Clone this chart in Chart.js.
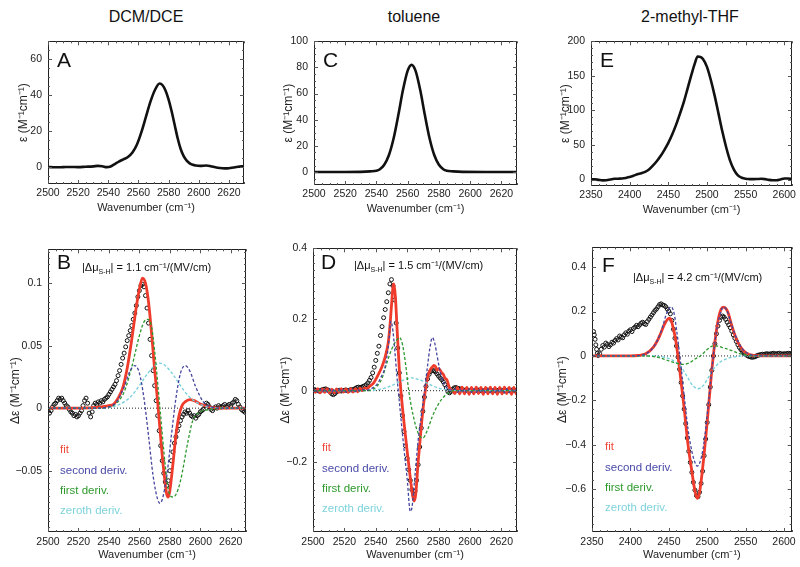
<!DOCTYPE html>
<html><head><meta charset="utf-8">
<script src="https://cdn.jsdelivr.net/npm/chart.js@4.4.1/dist/chart.umd.min.js"></script>
<style>
body{margin:0;background:#fff;width:800px;height:567px;position:relative;overflow:hidden;font-family:"Liberation Sans",Arial,Helvetica,sans-serif}
.ttl{position:absolute;top:8px;font-size:16px;color:#111;transform:translateX(-50%);white-space:nowrap}
canvas{position:absolute}
</style></head><body>
<div class="ttl" style="left:146px">DCM/DCE</div>
<div class="ttl" style="left:414px">toluene</div>
<div class="ttl" style="left:690px">2-methyl-THF</div>
<canvas id="cA"></canvas><canvas id="cC"></canvas><canvas id="cE"></canvas>
<canvas id="cB"></canvas><canvas id="cD"></canvas><canvas id="cF"></canvas>
<script>
// ---------- tick labels ----------
const xTicksAB = [2500,2520,2540,2560,2580,2600,2620];
const xTicksEF = [2350,2400,2450,2500,2550,2600];
const yTicksA = [0,20,40,60];
const yTicksC = [0,20,40,60,80,100];
const yTicksE = [0,50,100,150,200];
const yTicksB = [-0.05,0,0.05,0.1];
const yTicksD = [-0.2,0,0.2,0.4];
const yTicksF = [-0.6,-0.4,-0.2,0,0.2,0.4];
const panelTitles = ['DCM/DCE','toluene','2-methyl-THF'];
const muValues = ['1.1','1.5','4.2'];
const legendLabels = ['fit','second deriv.','first deriv.','zeroth deriv.'];

// ---------- absorption spectra (top) ----------
const absA = [[2500,0.0],[2505,-0.2],[2510,-0.1],[2515,0.0],[2520,-0.1],[2525,0.1],[2530,0.3],[2533,0.6],[2536,0.4],[2539,-0.1],[2541,0.1],[2544,1.5],[2547,3.0],[2550,4.2],[2553,5.5],[2556,8.0],[2559,12.5],[2562,19.5],[2565,28.0],[2568,36.5],[2571,43.0],[2574,46.5],[2576,45.5],[2578,42.5],[2580,37.5],[2582,31.0],[2584,23.5],[2586,16.0],[2588,10.0],[2590,6.0],[2592,3.5],[2594,2.0],[2596,1.2],[2598,0.8],[2601,0.6],[2605,0.8],[2608,0.4],[2611,-0.2],[2614,-0.6],[2617,-0.8],[2620,-0.7],[2623,-0.3],[2626,0.1],[2630,0.4]];
const absC = [[2500,0],[2520,0],[2530,0.1],[2536,0.5],[2540,1.0],[2542,2.0],[2545,5.6],[2548,13],[2551,25.8],[2554,43.6],[2557,62.9],[2560,77.6],[2562.5,82],[2565,77.6],[2568,62.9],[2571,43.6],[2574,25.8],[2577,13],[2580,5.6],[2583,2.0],[2585,1.0],[2589,0.5],[2595,0.1],[2610,0],[2630,0]];
const absE = [[2350,0.5],[2355,0.3],[2360,-0.5],[2365,-1.2],[2370,-1.0],[2375,0.0],[2380,1.0],[2385,1.2],[2390,1.4],[2395,2.2],[2400,3.7],[2405,5.5],[2410,7.5],[2415,9.0],[2420,11.0],[2425,14.5],[2430,20],[2435,26.5],[2440,34],[2445,43],[2450,53],[2455,65],[2460,79],[2465,95],[2470,112],[2475,132],[2480,152],[2484,167],[2488,178],[2492,177],[2495,174],[2500,163],[2505,144],[2510,121],[2515,95],[2520,69],[2525,46],[2530,27],[2535,14],[2540,6],[2545,2.5],[2550,1.0],[2555,0.6],[2560,0.5],[2565,0.7],[2570,1.0],[2575,0.5],[2580,-0.5],[2585,-1.0],[2590,-1.0],[2595,0.0],[2600,1.4],[2605,1.5],[2610,0.5]];

// ---------- Stark spectra: panel B (DCM/DCE) ----------
const dataB = [[2500,-0.002],[2501,-0.004],[2502,-0.002],[2503,0.001],[2504,0.003],[2505,0.004],[2506,0.006],[2507,0.008],[2508,0.007],[2509,0.008],[2510,0.006],[2511,0.004],[2512,0.002],[2513,0.001],[2514,-0.001],[2515,-0.003],[2516,-0.004],[2517,-0.006],[2518,-0.005],[2519,-0.007],[2520,-0.006],[2521,-0.004],[2522,-0.002],[2523,0.002],[2524,0.006],[2525,0.008],[2526,0.004],[2527,-0.004],[2528,-0.007],[2529,-0.003],[2530,0.002],[2531,0.004],[2532,0.003],[2533,0.005],[2534,0.004],[2535,0.006],[2536,0.005],[2537,0.007],[2538,0.008],[2539,0.009],[2540,0.011],[2541,0.013],[2542,0.015],[2543,0.017],[2544,0.019],[2545,0.022],[2546,0.026],[2547,0.030],[2548,0.035],[2549,0.040],[2550,0.044],[2551,0.049],[2552,0.054],[2553,0.058],[2554,0.062],[2555,0.066],[2556,0.071],[2557,0.076],[2558,0.082],[2559,0.089],[2560,0.094],[2561,0.098],[2562,0.099],[2563,0.097],[2564,0.090],[2565,0.080],[2566,0.068],[2567,0.055],[2568,0.042],[2569,0.030],[2570,0.018],[2571,0.006],[2572,-0.006],[2573,-0.018],[2574,-0.030],[2575,-0.042],[2576,-0.052],[2577,-0.059],[2578,-0.062],[2579,-0.058],[2580,-0.050],[2581,-0.042],[2582,-0.035],[2583,-0.028],[2584,-0.023],[2585,-0.018],[2586,-0.014],[2587,-0.010],[2588,-0.007],[2589,-0.005],[2590,-0.003],[2591,-0.004],[2592,-0.002],[2593,-0.004],[2594,-0.006],[2595,-0.007],[2596,-0.006],[2597,-0.008],[2598,-0.006],[2599,-0.005],[2600,-0.003],[2601,-0.002],[2602,-0.001],[2603,0.002],[2604,0.004],[2605,0.003],[2606,0.001],[2607,-0.001],[2608,-0.002],[2609,0.000],[2610,0.001],[2611,0.000],[2612,0.002],[2613,0.001],[2614,0.001],[2615,0.002],[2616,0.003],[2617,0.001],[2618,0.002],[2619,0.003],[2620,0.002],[2621,0.004],[2622,0.005],[2623,0.007],[2624,0.006],[2625,0.003],[2626,0.001],[2627,-0.001],[2628,-0.002],[2629,-0.003],[2630,-0.002]];
const fitB = [[2500,0],[2520,0],[2535,0.001],[2540,0.002],[2543,0.003],[2546,0.008],[2549,0.016],[2552,0.032],[2555,0.055],[2558,0.081],[2560,0.095],[2562,0.104],[2564,0.100],[2566,0.085],[2568,0.060],[2570,0.031],[2572,0.005],[2574,-0.024],[2576,-0.050],[2578,-0.069],[2579,-0.071],[2580,-0.066],[2582,-0.045],[2584,-0.0215],[2586,-0.006],[2588,0.002],[2590,0.005],[2593,0.0068],[2596,0.006],[2600,0.0034],[2605,0.0013],[2610,0.0003],[2620,0],[2630,0]];
const secondB = [[2500,0],[2530,0],[2540,0.001],[2545,0.005],[2550,0.017],[2554,0.030],[2557,0.034],[2560,0.028],[2563,0.008],[2566,-0.022],[2569,-0.054],[2572,-0.073],[2573.5,-0.076],[2575,-0.073],[2578,-0.054],[2581,-0.022],[2584,0.008],[2587,0.028],[2590,0.034],[2593,0.030],[2597,0.017],[2602,0.005],[2607,0.001],[2615,0],[2630,0]];
const firstB = [[2500,0],[2530,0],[2540,0.001],[2545,0.004],[2550,0.013],[2555,0.033],[2560,0.058],[2563,0.069],[2565.5,0.071],[2568,0.065],[2570,0.046],[2573.5,0],[2577,-0.046],[2579,-0.065],[2581.5,-0.071],[2584,-0.069],[2587,-0.058],[2592,-0.026],[2595,-0.010],[2600,-0.003],[2607,-0.001],[2615,0],[2630,0]];
const zerothB = [[2500,0],[2535,0],[2540,0.0005],[2545,0.002],[2550,0.005],[2555,0.010],[2560,0.018],[2565,0.027],[2570,0.034],[2573.5,0.036],[2577,0.034],[2582,0.027],[2587,0.018],[2592,0.010],[2597,0.005],[2602,0.002],[2607,0.0005],[2615,0],[2630,0]];

// ---------- panel D (toluene) ----------
const dataD = [[2500,0.002],[2501,0.003],[2502,0.001],[2503,0.000],[2504,-0.001],[2505,0.001],[2506,0.003],[2507,0.004],[2508,0.005],[2509,0.003],[2510,0.001],[2511,-0.004],[2512,-0.009],[2513,-0.011],[2514,-0.008],[2515,-0.003],[2516,0.000],[2517,0.001],[2518,-0.001],[2519,0.000],[2520,0.001],[2521,0.002],[2522,0.000],[2523,0.001],[2524,0.003],[2525,0.002],[2526,0.004],[2527,0.006],[2528,0.009],[2529,0.010],[2530,0.009],[2531,0.010],[2532,0.012],[2533,0.014],[2534,0.017],[2535,0.022],[2536,0.029],[2537,0.037],[2538,0.050],[2539,0.066],[2540,0.085],[2541,0.105],[2542,0.125],[2543,0.155],[2544,0.180],[2545,0.205],[2546,0.228],[2547,0.250],[2548,0.275],[2549,0.300],[2550,0.312],[2551,0.295],[2552,0.255],[2553,0.190],[2554,0.120],[2555,0.050],[2556,-0.015],[2557,-0.070],[2558,-0.115],[2559,-0.155],[2560,-0.190],[2561,-0.222],[2562,-0.252],[2563,-0.278],[2564,-0.290],[2565,-0.282],[2566,-0.252],[2567,-0.208],[2568,-0.158],[2569,-0.105],[2570,-0.058],[2571,-0.018],[2572,0.012],[2573,0.033],[2574,0.046],[2575,0.054],[2576,0.057],[2577,0.056],[2578,0.053],[2579,0.047],[2580,0.041],[2581,0.036],[2582,0.031],[2583,0.025],[2584,0.017],[2585,0.008],[2586,-0.003],[2587,-0.006],[2588,-0.002],[2589,0.004],[2590,0.008],[2591,0.009],[2592,0.007],[2593,0.006],[2594,0.004],[2595,0.003],[2596,0.002],[2597,0.001],[2598,0.002],[2599,0.001],[2600,0.000],[2601,0.001],[2602,-0.001],[2603,0.000],[2604,0.001],[2605,0.002],[2606,0.001],[2607,0.000],[2608,-0.001],[2609,0.000],[2610,0.001],[2611,0.002],[2612,0.001],[2613,0.000],[2614,-0.001],[2615,0.000],[2616,0.001],[2617,0.000],[2618,0.001],[2619,0.002],[2620,0.001],[2621,0.000],[2622,-0.001],[2623,0.000],[2624,0.001],[2625,0.000],[2626,0.001],[2627,0.002],[2628,0.001],[2629,0.000],[2630,0.001]];
const fitD = [[2500,0.005],[2501.5,-0.005],[2503,0.006],[2504.5,-0.006],[2506,0.005],[2507.5,-0.005],[2509,0.006],[2510.5,-0.006],[2512,0.004],[2513.5,-0.006],[2515,0.005],[2516.5,-0.005],[2518,0.006],[2519.5,-0.004],[2521,0.005],[2522.5,-0.005],[2524,0.006],[2525.5,-0.004],[2527,0.006],[2528.5,-0.003],[2530,0.007],[2531.5,0.000],[2533,0.008],[2534.5,0.006],[2536,0.012],[2538.7,0.022],[2541,0.040],[2544,0.068],[2546,0.095],[2548,0.137],[2549,0.180],[2550,0.238],[2551,0.293],[2551.5,0.300],[2552.5,0.265],[2553.5,0.180],[2555,0.060],[2556,0.000],[2558,-0.090],[2560,-0.170],[2562,-0.245],[2563.5,-0.295],[2564.5,-0.310],[2565.5,-0.290],[2567,-0.200],[2569,-0.100],[2571,-0.018],[2573,0.037],[2574.8,0.059],[2576,0.066],[2577,0.071],[2578,0.068],[2579,0.058],[2580,0.062],[2581,0.058],[2582,0.050],[2583,0.046],[2584,0.036],[2585.4,0.030],[2586.5,0.014],[2587.5,0.004],[2589,0.000],[2590.5,-0.008],[2592,0.009],[2593.5,-0.009],[2595,0.010],[2596.5,-0.009],[2598,0.009],[2599.5,-0.010],[2601,0.009],[2602.5,-0.009],[2604,0.010],[2605.5,-0.008],[2607,0.009],[2608.5,-0.010],[2610,0.009],[2611.5,-0.009],[2613,0.010],[2614.5,-0.009],[2616,0.009],[2617.5,-0.010],[2619,0.009],[2620.5,-0.009],[2622,0.010],[2623.5,-0.008],[2625,0.009],[2626.5,-0.010],[2628,0.009],[2629.5,-0.009],[2630,-0.004]];
const secondD = [[2500,-0.004],[2501.5,0.004],[2503,-0.004],[2504.5,0.004],[2506,-0.004],[2507.5,0.004],[2509,-0.004],[2510.5,0.004],[2512,-0.004],[2513.5,0.004],[2515,-0.004],[2516.5,0.004],[2518,-0.004],[2519.5,0.004],[2521,-0.004],[2522.5,0.004],[2524,-0.004],[2525.5,0.004],[2527,-0.003],[2528.5,0.004],[2530,-0.002],[2532,0.003],[2535,0.002],[2538,0.008],[2540.8,0.018],[2543,0.035],[2546,0.068],[2548,0.124],[2549.7,0.195],[2551,0.165],[2552,0.120],[2553.5,0.040],[2555,-0.030],[2558,-0.165],[2560,-0.247],[2562,-0.339],[2563,-0.330],[2565,-0.238],[2567,-0.140],[2569,-0.070],[2571,-0.005],[2573,0.070],[2574.5,0.120],[2576,0.149],[2577.5,0.135],[2579,0.100],[2580.5,0.065],[2582,0.037],[2585,0.009],[2588,0.002],[2590.5,0.005],[2592,-0.005],[2593.5,0.005],[2595,-0.005],[2596.5,0.005],[2598,-0.005],[2599.5,0.005],[2601,-0.005],[2602.5,0.005],[2604,-0.005],[2605.5,0.005],[2607,-0.005],[2608.5,0.005],[2610,-0.005],[2611.5,0.005],[2613,-0.005],[2614.5,0.005],[2616,-0.005],[2617.5,0.005],[2619,-0.005],[2620.5,0.005],[2622,-0.005],[2623.5,0.005],[2625,-0.005],[2626.5,0.005],[2628,-0.005],[2629.5,0.005],[2630,0.002]];
const firstD = [[2500,0],[2535,0],[2538,0.004],[2540.8,0.013],[2544,0.035],[2547,0.077],[2550,0.115],[2553,0.140],[2555.2,0.149],[2557,0.130],[2559,0.075],[2561,0.000],[2564,-0.073],[2567,-0.119],[2570,-0.133],[2573,-0.110],[2576,-0.073],[2580,-0.037],[2584,-0.014],[2587,-0.005],[2590,0],[2630,0]];
const zerothD = [[2500,0],[2530,0],[2540,0.002],[2545,0.006],[2550,0.014],[2555,0.025],[2559,0.032],[2563,0.036],[2567,0.032],[2571,0.025],[2576,0.014],[2581,0.006],[2586,0.002],[2595,0],[2630,0]];

// ---------- panel F (2-methyl-THF) ----------
const dataF = [[2352,0.110],[2353,0.095],[2354,0.075],[2355,0.050],[2356,0.030],[2357,0.012],[2358,0.002],[2360,0.010],[2362,0.030],[2364,0.047],[2366,0.040],[2368,0.058],[2370,0.052],[2372,0.042],[2374,0.050],[2376,0.062],[2378,0.058],[2380,0.070],[2382,0.078],[2384,0.072],[2386,0.090],[2388,0.085],[2390,0.082],[2392,0.095],[2394,0.104],[2396,0.098],[2398,0.112],[2400,0.118],[2402,0.110],[2404,0.124],[2406,0.130],[2408,0.138],[2410,0.132],[2412,0.140],[2414,0.148],[2416,0.152],[2418,0.145],[2420,0.142],[2422,0.155],[2424,0.165],[2426,0.175],[2428,0.185],[2430,0.195],[2432,0.205],[2434,0.212],[2436,0.222],[2438,0.232],[2440,0.235],[2442,0.230],[2444,0.228],[2446,0.222],[2448,0.212],[2450,0.202],[2452,0.190],[2454,0.160],[2456,0.120],[2458,0.080],[2460,0.045],[2462,-0.005],[2464,-0.060],[2466,-0.120],[2468,-0.180],[2470,-0.240],[2472,-0.305],[2474,-0.370],[2476,-0.430],[2478,-0.480],[2480,-0.525],[2482,-0.570],[2484,-0.605],[2486,-0.630],[2488,-0.635],[2490,-0.615],[2492,-0.575],[2494,-0.520],[2496,-0.450],[2498,-0.375],[2500,-0.300],[2502,-0.220],[2504,-0.140],[2506,-0.065],[2508,0.000],[2510,0.055],[2512,0.100],[2514,0.135],[2516,0.160],[2518,0.175],[2520,0.180],[2522,0.175],[2524,0.165],[2526,0.152],[2528,0.140],[2530,0.128],[2532,0.112],[2534,0.095],[2536,0.080],[2538,0.065],[2540,0.050],[2542,0.038],[2544,0.028],[2546,0.020],[2548,0.012],[2550,0.006],[2552,0.002],[2554,-0.002],[2556,-0.004],[2558,-0.006],[2560,-0.005],[2562,-0.004],[2564,0.000],[2566,0.003],[2568,0.005],[2570,0.006],[2572,0.008],[2574,0.007],[2576,0.009],[2578,0.010],[2580,0.008],[2582,0.009],[2584,0.010],[2586,0.012],[2588,0.010],[2590,0.009],[2592,0.011],[2594,0.012],[2596,0.010],[2598,0.008],[2600,0.010],[2602,0.009],[2604,0.011],[2606,0.012],[2608,0.010],[2610,0.011]];
const fitF = [[2350,0],[2400,0],[2410,0.002],[2420,0.010],[2430,0.040],[2436,0.075],[2440,0.107],[2444,0.140],[2448,0.164],[2451,0.170],[2453,0.162],[2455,0.137],[2458,0.090],[2460,0.048],[2465,-0.087],[2470,-0.236],[2475,-0.400],[2480,-0.520],[2484,-0.609],[2487,-0.642],[2490,-0.616],[2495,-0.475],[2500,-0.296],[2505,-0.101],[2510,0.063],[2515,0.175],[2518,0.210],[2521,0.220],[2524,0.215],[2527,0.197],[2532,0.137],[2537,0.085],[2542,0.048],[2548,0.021],[2555,0.006],[2565,0.001],[2575,0],[2610,0]];
const secondF = [[2350,0],[2400,0],[2420,0.010],[2430,0.040],[2440,0.110],[2447,0.190],[2453,0.222],[2457,0.190],[2460,0.120],[2465,-0.020],[2470,-0.180],[2475,-0.330],[2480,-0.430],[2484,-0.480],[2487,-0.497],[2490,-0.485],[2494,-0.430],[2497,-0.360],[2502,-0.200],[2507,-0.030],[2512,0.110],[2517,0.190],[2521,0.220],[2525,0.210],[2530,0.160],[2537,0.090],[2545,0.035],[2555,0.008],[2565,0.001],[2575,0],[2610,0]];
const firstF = [[2350,0],[2420,0],[2430,-0.003],[2440,-0.010],[2450,-0.022],[2460,-0.033],[2468,-0.038],[2476,-0.032],[2484,-0.014],[2491,0.0],[2496,0.016],[2501,0.032],[2505,0.042],[2509,0.046],[2514,0.044],[2520,0.038],[2530,0.026],[2540,0.013],[2550,0.005],[2560,0.001],[2570,0],[2610,0]];
const zerothF = [[2350,0],[2430,0],[2440,-0.004],[2450,-0.012],[2460,-0.030],[2468,-0.060],[2475,-0.100],[2481,-0.133],[2488,-0.148],[2495,-0.133],[2501,-0.100],[2508,-0.060],[2516,-0.030],[2526,-0.012],[2536,-0.004],[2546,0],[2610,0]];

// ---------- rendering ----------
const FONT = '"Liberation Sans", Arial, Helvetica, sans-serif';
const COL = {fit:'#ee3b2b', second:'#45459f', first:'#2b982b', zeroth:'#72cfd9'};
const LEGCOL = ['#f04b3b','#4a4aa8','#2e9a2e','#7fd3dc'];
const pts = arr => arr.map(p => ({x:p[0], y:p[1]}));
const fmt = v => { const s = String(+(+v).toFixed(4)); return v < 0 ? '\u2212' + s.slice(1) : s; };

const framePlugin = {
  id:'frame',
  afterDatasetsDraw(chart, args, o) {
    const {ctx, chartArea:a, scales:{x, y}} = chart;
    ctx.save();
    ctx.strokeStyle = '#222'; ctx.lineWidth = 1;
    ctx.strokeRect(Math.round(a.left)+0.5, Math.round(a.top)+0.5, Math.round(a.right-a.left)-1, Math.round(a.bottom-a.top)-1);
    ctx.strokeStyle = '#555';
    const ticks = (scale, step, major, horiz) => {
      const i0 = Math.ceil(scale.min/step - 1e-6), i1 = Math.floor(scale.max/step + 1e-6);
      for (let i = i0; i <= i1; i++) {
        const v = i*step;
        const isMaj = major.some(m => Math.abs(m - v) < step*0.01);
        const L = isMaj ? 4 : 2;
        const p = Math.round(scale.getPixelForValue(v)) + 0.5;
        ctx.beginPath();
        if (horiz) {
          ctx.moveTo(p, a.bottom); ctx.lineTo(p, a.bottom - L);
          ctx.moveTo(p, a.top); ctx.lineTo(p, a.top + L);
        } else {
          ctx.moveTo(a.left, p); ctx.lineTo(a.left + L, p);
          ctx.moveTo(a.right, p); ctx.lineTo(a.right - L, p);
        }
        ctx.stroke();
      }
    };
    ticks(x, o.xMinor, o.xMajor, true);
    ticks(y, o.yMinor, o.yMajor, false);
    ctx.restore();
  },
  afterDraw(chart, args, o) {
    const {ctx, chartArea:a} = chart;
    ctx.save();
    ctx.textAlign = 'left'; ctx.textBaseline = 'alphabetic';
    ctx.fillStyle = '#111';
    ctx.font = '21px ' + FONT;
    ctx.fillText(o.letter, a.left + o.letterDx, a.top + o.letterDy);
    if (o.mu) {
      let x = a.left + o.muDx, yb = a.top + o.muDy;
      ctx.font = '11px ' + FONT;
      const s1 = '|\u0394\u03bc'; ctx.fillText(s1, x, yb); x += ctx.measureText(s1).width;
      ctx.font = '7px ' + FONT;
      ctx.fillText('S-H', x, yb + 3); x += ctx.measureText('S-H').width;
      ctx.font = '11px ' + FONT;
      ctx.fillText('| = ' + o.mu + ' cm\u207b\u00b9/(MV/cm)', x, yb);
      ctx.font = '11.5px ' + FONT;
      legendLabels.forEach((t, i) => {
        ctx.fillStyle = LEGCOL[i];
        ctx.fillText(t, a.left + o.legDx, a.top + o.legDy + i*20.3);
      });
    }
    ctx.restore();
  }
};

function mkScales(xmin, xmax, xt, ymin, ymax, yt, yTitle, yTitlePad, xTickPad, xTitlePad) {
  return {
    x: {type:'linear', min:xmin, max:xmax,
      afterBuildTicks: s => { s.ticks = xt.map(v => ({value:v})); },
      afterFit: s => { s.height = 34; },
      grid:{display:false, drawTicks:false}, border:{display:false},
      ticks:{font:{family:FONT, size:10.5}, color:'#222', padding:xTickPad, maxRotation:0, autoSkip:false, callback: v => String(v)},
      title:{display:true, text:'Wavenumber (cm\u207b\u00b9)', font:{family:FONT, size:11}, color:'#222', padding:{top:0, bottom:xTitlePad}}
    },
    y: {type:'linear', min:ymin, max:ymax,
      afterBuildTicks: s => { s.ticks = yt.map(v => ({value:v})); },
      afterFit: s => { s.width = 48; },
      grid:{display:false, drawTicks:false}, border:{display:false},
      ticks:{font:{family:FONT, size:10.5}, color:'#222', padding:6, autoSkip:false, callback: v => fmt(v)},
      title:{display:true, text:yTitle, font:{family:FONT, size:12}, color:'#222', padding:{top:yTitlePad, bottom:0}}
    }
  };
}

function place(id, box) {
  const c = document.getElementById(id);
  const PT = 8, PR = 8;
  const w = (box.r - box.l) + 48 + PR, h = (box.b - box.t) + PT + 34;
  c.width = w; c.height = h;
  c.style.left = (box.l - 48) + 'px'; c.style.top = (box.t - PT) + 'px';
  c.style.width = w + 'px'; c.style.height = h + 'px';
  return {c, pad:{left:0, top:PT, right:PR, bottom:0}};
}

function lineDs(arr, color, width, dash) {
  return {data:pts(arr), showLine:true, borderColor:color, borderWidth:width, borderDash:dash || [],
    pointRadius:0, pointHoverRadius:0, cubicInterpolationMode:'monotone', fill:false};
}

function topPanel(id, box, arr, xmin, xmax, xt, ymin, ymax, yt, letter, yPad, frameOpts) {
  const {c, pad} = place(id, box);
  new Chart(c, {
    type:'scatter',
    data:{datasets:[lineDs(arr, '#111', 2.6)]},
    options:{responsive:false, animation:false, devicePixelRatio:1, layout:{padding:pad},
      plugins:{legend:{display:false}, tooltip:{enabled:false},
        frame:Object.assign({letter, letterDx:9, letterDy:25.5, xMajor:xt, yMajor:yt}, frameOpts)},
      scales: mkScales(xmin, xmax, xt, ymin, ymax, yt, '\u03b5 (M\u207b\u00b9cm\u207b\u00b9)', yPad, 3, 3.4)},
    plugins:[framePlugin]
  });
}

function botPanel(id, box, s, xmin, xmax, xt, ymin, ymax, yt, letter, yPad, fo) {
  const {c, pad} = place(id, box);
  const zero = [[xmin,0],[xmax,0]];
  new Chart(c, {
    type:'scatter',
    data:{datasets:[
      lineDs(s.second, COL.second, 1.3, [3,2]),
      lineDs(s.first, COL.first, 1.3, [3,2]),
      lineDs(s.zeroth, COL.zeroth, 1.3, [3,2]),
      lineDs(s.fit, COL.fit, 2.8),
      {data:pts(s.data), showLine:false, pointRadius:2.0, pointHoverRadius:0, pointBorderWidth:1,
        pointBorderColor:'#111', pointBackgroundColor:'rgba(255,255,255,0)'},
      Object.assign(lineDs(zero, '#222', 1, [1,2]), {cubicInterpolationMode:'default', tension:0})
    ]},
    options:{responsive:false, animation:false, devicePixelRatio:1, layout:{padding:pad},
      plugins:{legend:{display:false}, tooltip:{enabled:false},
        frame:Object.assign({letter, xMajor:xt, yMajor:yt}, fo)},
      scales: mkScales(xmin, xmax, xt, ymin, ymax, yt, '\u0394\u03b5 (M\u207b\u00b9cm\u207b\u00b9)', yPad, 4, 4.4)},
    plugins:[framePlugin]
  });
}

topPanel('cA', {l:48, t:37, r:244, b:184}, absA, 2500, 2630, xTicksAB, -9.5, 70, yTicksA, 'A', 16, {xMinor:5, yMinor:5});
topPanel('cC', {l:314, t:37, r:517, b:185}, absC, 2500, 2630, xTicksAB, -9.9, 100, yTicksC, 'C', 15, {xMinor:5, yMinor:5});
topPanel('cE', {l:591, t:37, r:792, b:186}, absE, 2350, 2610, xTicksEF, -9.4, 200, yTicksE, 'E', 15, {xMinor:10, yMinor:10});

botPanel('cB', {l:48, t:245, r:246, b:532}, {data:dataB, fit:fitB, second:secondB, first:firstB, zeroth:zerothB},
  2500, 2630, xTicksAB, -0.099, 0.127, yTicksB, 'B', 8,
  {xMinor:5, yMinor:0.005, letterDx:9, letterDy:20, mu:muValues[0], muDx:34, muDy:22, legDx:12, legDy:204});
botPanel('cD', {l:313, t:244, r:517, b:532}, {data:dataD, fit:fitD, second:secondD, first:firstD, zeroth:zerothD},
  2500, 2630, xTicksAB, -0.397, 0.4, yTicksD, 'D', 13,
  {xMinor:5, yMinor:0.02, letterDx:8, letterDy:21, mu:muValues[1], muDx:41, muDy:21, legDx:9, legDy:203});
botPanel('cF', {l:592, t:243, r:792, b:532}, {data:dataF, fit:fitF, second:secondF, first:firstF, zeroth:zerothF},
  2350, 2610, xTicksEF, -0.794, 0.49, yTicksF, 'F', 11,
  {xMinor:10, yMinor:0.04, letterDx:10, letterDy:25, mu:muValues[2], muDx:41, muDy:34, legDx:13, legDy:203});
</script>
</body></html>
